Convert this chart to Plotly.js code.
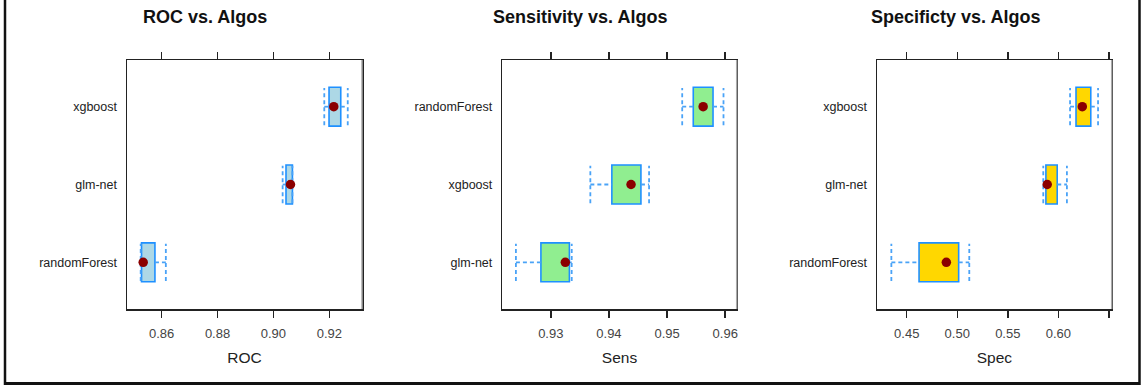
<!DOCTYPE html>
<html>
<head>
<meta charset="utf-8">
<script src="https://cdn.plot.ly/plotly-3.0.1.min.js"></script>
<style>
  html, body { margin: 0; padding: 0; background: #fff; }
  #chart { width: 1141px; height: 385px; }
</style>
</head>
<body>
<div id="chart"></div>
<script>
// Resampling results per model: quartiles, median and whisker ends.
// Algorithms are listed bottom-to-top as they appear in each panel.
const rocAlgos   = ["randomForest", "glm-net", "xgboost"];
const rocMin     = [0.8525, 0.9033, 0.9182];
const rocQ1      = [0.8528, 0.9045, 0.9199];
const rocMedian  = [0.8534, 0.9061, 0.9216];
const rocQ3      = [0.8576, 0.9068, 0.9241];
const rocMax     = [0.8615, 0.9068, 0.9266];

const sensAlgos  = ["glm-net", "xgboost", "randomForest"];
const sensMin    = [0.9240, 0.9368, 0.9526];
const sensQ1     = [0.9283, 0.9405, 0.9545];
const sensMedian = [0.9325, 0.9438, 0.9562];
const sensQ3     = [0.9332, 0.9455, 0.9579];
const sensMax    = [0.9336, 0.9469, 0.9597];

const specAlgos  = ["randomForest", "glm-net", "xgboost"];
const specMin    = [0.4348, 0.5851, 0.6116];
const specQ1     = [0.4622, 0.5877, 0.6175];
const specMedian = [0.4892, 0.5890, 0.6237];
const specQ3     = [0.5014, 0.5989, 0.6321];
const specMax    = [0.5119, 0.6085, 0.6393];

const rocTicks  = [0.86, 0.88, 0.90, 0.92];
const sensTicks = [0.93, 0.94, 0.95, 0.96];
const specTicks = [0.45, 0.50, 0.55, 0.60, 0.65];
const specTickText = ["0.45", "0.50", "0.55", "0.60", ""];

const W = 1141, H = 385;
const BOX_BORDER = "#1E90FF";
const WHISKER = "#4AA3F7";
const DOT = "#8B0000";
const HALF = 0.25;

function panelTraces(algos, lo, q1, med, q3, hi, fill, xa, ya) {
  const pos = algos.map((_, i) => i + 1);
  const wx = [], wy = [], cx = [], cy = [];
  pos.forEach((p, i) => {
    wx.push(lo[i], q1[i], null, q3[i], hi[i], null);
    wy.push(p, p, null, p, p, null);
    cx.push(lo[i], lo[i], null, hi[i], hi[i], null);
    cy.push(p - HALF * 0.96, p + HALF * 0.96, null, p - HALF * 0.96, p + HALF * 0.96, null);
  });
  const dashed = { color: WHISKER, width: 1.8, dash: "4px,3px" };
  return [
    { type: "scatter", mode: "lines", x: wx, y: wy, xaxis: xa, yaxis: ya,
      line: dashed, hoverinfo: "skip", showlegend: false },
    { type: "scatter", mode: "lines", x: cx, y: cy, xaxis: xa, yaxis: ya,
      line: dashed, hoverinfo: "skip", showlegend: false },
    { type: "bar", orientation: "h", y: pos, base: q1, x: q3.map((v, i) => v - q1[i]),
      width: 2 * HALF, xaxis: xa, yaxis: ya, showlegend: false,
      marker: { color: fill, line: { color: BOX_BORDER, width: 1.6 } } },
    { type: "scatter", mode: "markers", x: med, y: pos, xaxis: xa, yaxis: ya, showlegend: false,
      marker: { color: DOT, size: 9.5 } }
  ];
}

const data = [].concat(
  panelTraces(rocAlgos, rocMin, rocQ1, rocMedian, rocQ3, rocMax, "#ADD8E6", "x", "y"),
  panelTraces(sensAlgos, sensMin, sensQ1, sensMedian, sensQ3, sensMax, "#90EE90", "x2", "y2"),
  panelTraces(specAlgos, specMin, specQ1, specMedian, specQ3, specMax, "#FFD700", "x3", "y3")
);

const font = { family: "Liberation Sans, Arial, sans-serif" };
const yDom = [1 - 309 / H, 1 - 60 / H];

function xAxis(domPx, range, ticks, text, title, anchor) {
  return {
    domain: [domPx[0] / W, domPx[1] / W], range: range, anchor: anchor,
    tickvals: ticks, ticktext: text || ticks.map(v => v.toFixed(2)),
    ticks: "outside", ticklen: 7, tickwidth: 1.5, tickcolor: "#222",
    showline: true, mirror: "ticks", linecolor: "#222", linewidth: 1.5,
    showgrid: false, zeroline: false, fixedrange: true, ticklabelstandoff: 5,
    tickfont: { family: font.family, size: 13, color: "#444" },
    title: { text: title, font: { family: font.family, size: 15.5, color: "#222" }, standoff: 12 }
  };
}
function yAxis(algos, anchor) {
  return {
    domain: yDom, range: [0.4, 3.6], anchor: anchor,
    tickvals: algos.map((_, i) => i + 1), ticktext: algos,
    ticks: "", showline: true, mirror: true, linecolor: "#222", linewidth: 1.5,
    showgrid: false, zeroline: false, fixedrange: true, ticklabelstandoff: 6,
    tickfont: { family: font.family, size: 12.5, color: "#222" }
  };
}

const titles = [
  { text: "ROC vs. Algos", x: 204.7 },
  { text: "Sensitivity vs. Algos", x: 580 },
  { text: "Specificty vs. Algos", x: 955 }
];

const annotations = titles.map(t => ({
  text: "<b>" + t.text + "</b>", x: t.x / W, y: 1 - 17 / H, xref: "paper", yref: "paper",
  xanchor: "center", yanchor: "middle", showarrow: false,
  font: { family: font.family, size: 18, color: "#111" }
}));

// lighter right-hand edge of each panel frame, plus the outer border
const shapes = ["x", "x2", "x3"].map((xa, i) => ({
  type: "line", xref: xa + " domain", yref: ["y", "y2", "y3"][i] + " domain",
  x0: 1, x1: 1, y0: 0, y1: 1, line: { color: "#aaa", width: 1.5 }
})).concat([
  { type: "line", xref: "paper", yref: "paper", x0: 5 / W, x1: 5 / W, y0: 0, y1: 1, line: { color: "#111", width: 2.5 } },
  { type: "line", xref: "paper", yref: "paper", x0: 4 / W, x1: 1140 / W, y0: 1.5 / H, y1: 1.5 / H, line: { color: "#111", width: 3 } },
  { type: "line", xref: "paper", yref: "paper", x0: 1139.5 / W, x1: 1139.5 / W, y0: 0, y1: 1, line: { color: "#111", width: 2.5 } }
]);

const layout = {
  width: W, height: H, margin: { l: 0, r: 0, t: 0, b: 0 },
  paper_bgcolor: "#fff", plot_bgcolor: "#fff", showlegend: false, font: font,
  barmode: "overlay",
  xaxis:  xAxis([127, 362], [0.8476, 0.9317], rocTicks, null, "ROC", "y"),
  xaxis2: xAxis([502.3, 736.7], [0.92166, 0.96197], sensTicks, null, "Sens", "y2"),
  xaxis3: xAxis([877, 1111.7], [0.4206, 0.6528], specTicks, specTickText, "Spec", "y3"),
  yaxis:  yAxis(rocAlgos, "x"),
  yaxis2: yAxis(sensAlgos, "x2"),
  yaxis3: yAxis(specAlgos, "x3"),
  annotations: annotations, shapes: shapes
};

Plotly.newPlot("chart", data, layout, { displayModeBar: false, staticPlot: true });
</script>
</body>
</html>
